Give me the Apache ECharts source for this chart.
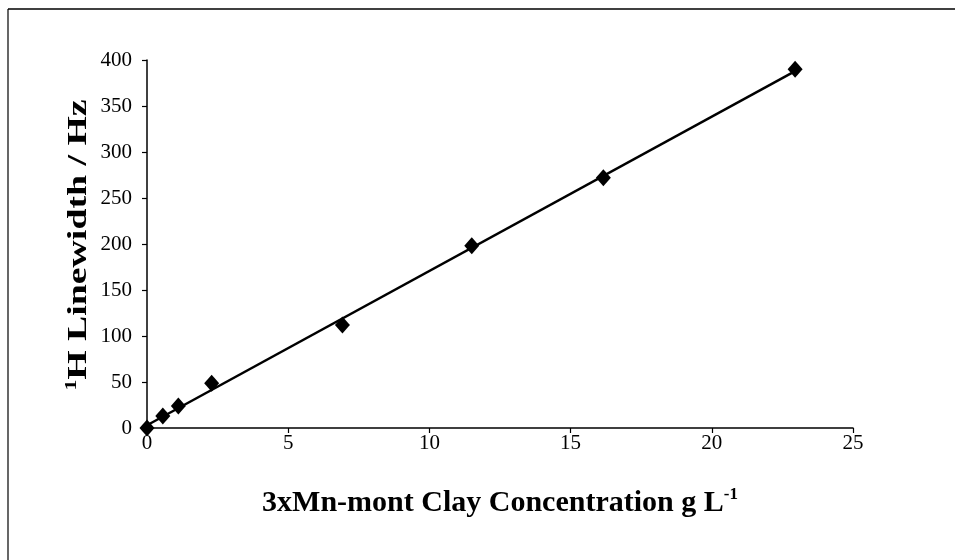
<!DOCTYPE html>
<html>
<head>
<meta charset="utf-8">
<script src="https://cdn.jsdelivr.net/npm/echarts@6/dist/echarts.min.js"></script>
<style>
  html, body { margin: 0; padding: 0; background: #fff; }
  #chart { width: 955px; height: 560px; }
</style>
</head>
<body>
<div id="chart"></div>
<script>
// Clay concentration (g/L) vs. 1H linewidth (Hz)
const concentration = [0, 0.56, 1.11, 2.29, 6.92, 11.5, 16.16, 22.95];
const linewidth = [0, 13, 24, 48.6, 112, 198, 272, 390];

// Linear fit drawn through the measurements
const fitX = [0, 22.95];
const fitY = [3, 388];

const xTicks = [0, 5, 10, 15, 20, 25];
const yTicks = [0, 50, 100, 150, 200, 250, 300, 350, 400];

const xTitle = '3xMn-mont Clay Concentration g L';
const yTitle = 'H Linewidth / Hz';

const serif = '"Liberation Serif", "Times New Roman", serif';

const chart = echarts.init(document.getElementById('chart'));

chart.setOption({
  animation: false,
  backgroundColor: '#fff',
  grid: { left: 147, right: 102, top: 60, bottom: 132, containLabel: false },
  xAxis: {
    type: 'value',
    min: xTicks[0],
    max: xTicks[xTicks.length - 1],
    interval: 5,
    axisLine: { show: true, lineStyle: { color: '#000', width: 1.5 } },
    axisTick: { show: true, length: 5, lineStyle: { color: '#000', width: 1.2 } },
    axisLabel: { color: '#000', fontFamily: serif, fontSize: 21, margin: 5 },
    splitLine: { show: false }
  },
  yAxis: {
    type: 'value',
    min: yTicks[0],
    max: yTicks[yTicks.length - 1],
    interval: 50,
    axisLine: { show: true, lineStyle: { color: '#000', width: 1.5 } },
    axisTick: { show: true, length: 5, lineStyle: { color: '#000', width: 1.2 } },
    axisLabel: { color: '#000', fontFamily: serif, fontSize: 21, margin: 15 },
    splitLine: { show: false }
  },
  graphic: [
    // page frame (top and left edges)
    { type: 'line', shape: { x1: 8, y1: 9, x2: 955, y2: 9 }, style: { stroke: '#000', lineWidth: 1.5 } },
    { type: 'line', shape: { x1: 8, y1: 9, x2: 8, y2: 560 }, style: { stroke: '#000', lineWidth: 1.2 } },
    // x-axis title
    {
      type: 'text',
      x: 500, y: 503,
      style: {
        text: '{t|' + xTitle + '}{sup|-1}',
        align: 'center',
        verticalAlign: 'middle',
        rich: {
          t: { fontFamily: serif, fontSize: 30, fontWeight: 'bold', fill: '#000' },
          sup: { fontFamily: serif, fontSize: 17, fontWeight: 'bold', fill: '#000', verticalAlign: 'top', padding: [0, 0, 16, 0] }
        }
      }
    },
    // y-axis title, stretched along its length
    {
      type: 'text',
      x: 79, y: 245,
      rotation: Math.PI / 2,
      scaleX: 1.35,
      style: {
        text: '{sup|1}{t|' + yTitle + '}',
        align: 'center',
        verticalAlign: 'middle',
        rich: {
          t: { fontFamily: serif, fontSize: 28, fontWeight: 'bold', fill: '#000' },
          sup: { fontFamily: serif, fontSize: 16, fontWeight: 'bold', fill: '#000', verticalAlign: 'top', padding: [0, 0, 14, 0] }
        }
      }
    }
  ],
  series: [
    {
      type: 'line',
      data: fitX.map((x, i) => [x, fitY[i]]),
      symbol: 'none',
      lineStyle: { color: '#000', width: 2.5 },
      z: 2
    },
    {
      type: 'scatter',
      data: concentration.map((x, i) => [x, linewidth[i]]),
      symbol: 'diamond',
      symbolSize: [15, 17],
      itemStyle: { color: '#000', opacity: 1 },
      z: 3
    }
  ]
});
</script>
</body>
</html>
